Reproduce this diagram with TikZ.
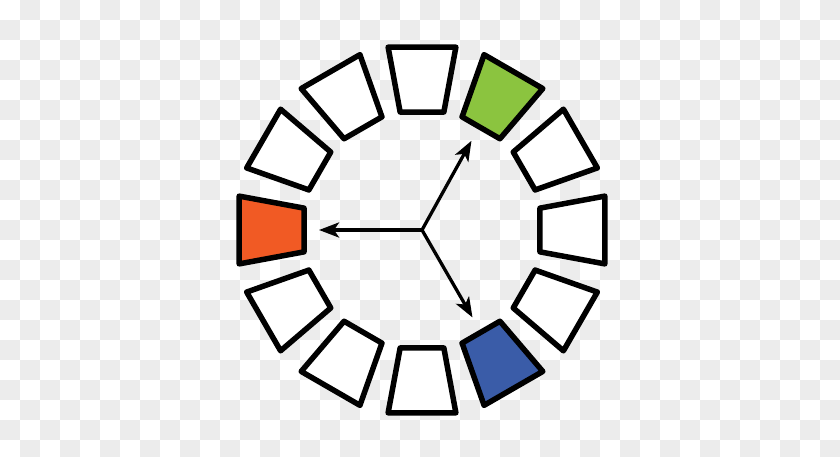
\documentclass[tikz,border=0pt]{standalone}
\usetikzlibrary{arrows.meta}
\definecolor{chk}{RGB}{236,236,236}
\definecolor{segGreen}{RGB}{139,196,63}
\definecolor{segOrange}{RGB}{241,90,36}
\definecolor{segBlue}{RGB}{58,92,168}
\tikzset{
  chkcell/.style={fill=chk},
  segbox/.style={draw=black, line width=5.5pt, line join=round},
  spoke/.style={line width=3.3pt, -{Stealth[length=20pt,width=15pt,inset=5pt]}}
}
\begin{document}
\begin{tikzpicture}[x=1pt,y=-1pt]
\useasboundingbox (0,0) rectangle (840,457);
\clip (0,0) rectangle (840,457);
\fill[white] (0,0) rectangle (840,457);
\foreach \yy in {0,40,...,440}{
  \foreach \xx in {20,60,...,820} \fill[chkcell] (\xx,\yy) rectangle ++(20,20);
  \foreach \xx in {0,40,...,800} \fill[chkcell] (\xx,\yy+20) rectangle ++(20,20);
}
\begin{scope}[shift={(422,230)}, y={(0,1pt)}]
  \foreach \a/\col in {0/white,30/white,60/segGreen,90/white,120/white,150/white,180/segOrange,210/white,240/white,270/white,300/segBlue,330/white}{
    \draw[segbox, fill=\col] (\a-10.5:120) -- (\a+10.5:120) -- (\a+10.5:186) -- (\a-10.5:186) -- cycle;
  }
  \coordinate (c) at (0,0);
  \coordinate (tipL) at (180:103);
  \coordinate (tipG) at (61:102);
  \coordinate (tipB) at (-60:101);
  \draw[spoke] (c) -- (tipL);
  \draw[spoke] (c) -- (tipG);
  \draw[spoke] (c) -- (tipB);
\end{scope}
\end{tikzpicture}
\end{document}
